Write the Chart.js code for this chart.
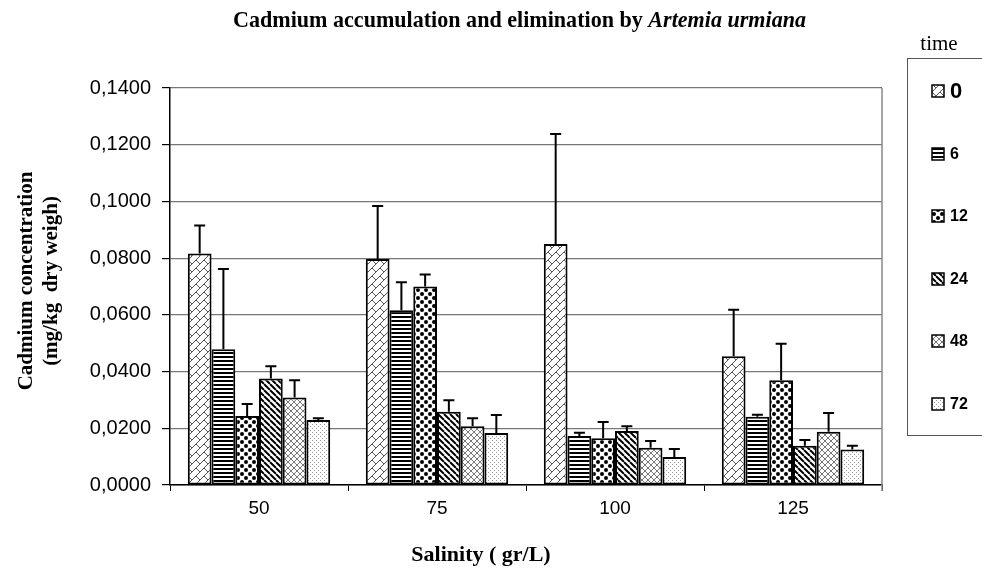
<!DOCTYPE html>
<html>
<head>
<meta charset="utf-8">
<script src="https://cdn.jsdelivr.net/npm/chart.js@4"></script>
<style>html,body{margin:0;padding:0;background:#fff}</style>
</head>
<body>
<canvas id="chart" width="982" height="569"></canvas>
<script>
// Cadmium accumulation and elimination
const salinity = ['50', '75', '100', '125'];
const timeLabels = ['0', '6', '12', '24', '48', '72'];
const yTicks = [0, 0.02, 0.04, 0.06, 0.08, 0.10, 0.12, 0.14];

// mean concentration per sampling time (one value per salinity)
const t0  = [0.0816, 0.0797, 0.0850, 0.0454];
const t6  = [0.0479, 0.0616, 0.0173, 0.0241];
const t12 = [0.0243, 0.0700, 0.0165, 0.0369];
const t24 = [0.0376, 0.0258, 0.0190, 0.0138];
const t48 = [0.0309, 0.0207, 0.0131, 0.0188];
const t72 = [0.0229, 0.0183, 0.0099, 0.0125];

// upper error bars
const e0  = [0.0099, 0.0187, 0.0388, 0.0164];
const e6  = [0.0283, 0.0099, 0.0011, 0.0007];
const e12 = [0.0043, 0.0042, 0.0057, 0.0129];
const e24 = [0.0043, 0.0041, 0.0017, 0.0021];
const e48 = [0.0060, 0.0028, 0.0024, 0.0066];
const e72 = [0.0006, 0.0064, 0.0028, 0.0013];

const series = [t0, t6, t12, t24, t48, t72];
const errors = [e0, e6, e12, e24, e48, e72];

// hatch fills like the old spreadsheet patterns
function makePattern(kind) {
    const c = document.createElement('canvas');
    const g = c.getContext('2d');
    let s = 8;
    if (kind === 'lines') s = 4;
    if (kind === 'diag' || kind === 'cross') s = 6;
    if (kind === 'fine') s = 4;
    c.width = s; c.height = s;
    g.fillStyle = '#fff';
    g.fillRect(0, 0, s, s);
    if (kind === 'brick') {
        g.strokeStyle = '#555';
        g.lineWidth = 1;
        g.beginPath();
        g.moveTo(-1, 9); g.lineTo(9, -1);
        g.moveTo(4, 4); g.lineTo(8, 8);
        g.stroke();
    } else if (kind === 'lines') {
        g.fillStyle = '#000';
        g.fillRect(0, 0, s, 2);
    } else if (kind === 'dots') {
        g.fillStyle = '#000';
        g.beginPath();
        g.arc(2, 2, 2, 0, Math.PI * 2);
        g.arc(6, 6, 2, 0, Math.PI * 2);
        g.fill();
    } else if (kind === 'diag') {
        g.strokeStyle = '#000';
        g.lineWidth = 2;
        g.beginPath();
        for (let x = -s; x <= s; x += s) {
            g.moveTo(x, 0); g.lineTo(x + s, s);
        }
        g.stroke();
    } else if (kind === 'cross') {
        g.strokeStyle = '#777';
        g.lineWidth = 1;
        g.beginPath();
        g.moveTo(0, 0); g.lineTo(s, s);
        g.moveTo(s, 0); g.lineTo(0, s);
        g.stroke();
    } else if (kind === 'fine') {
        g.fillStyle = '#999';
        g.fillRect(0, 0, 1, 1);
        g.fillRect(2, 2, 1, 1);
    }
    return g.createPattern(c, 'repeat');
}

const fills = ['brick', 'lines', 'dots', 'diag', 'cross', 'fine'].map(makePattern);

const serif = "'Liberation Serif', 'Times New Roman', serif";
const sans = "'Liberation Sans', Arial, sans-serif";

// error bars, title, axis titles and the boxed legend
const extras = {
    id: 'extras',
    afterDatasetsDraw(chart) {
        const ctx = chart.ctx;
        const y = chart.scales.y;
        ctx.save();
        ctx.strokeStyle = '#000';
        ctx.lineWidth = 2;
        chart.data.datasets.forEach((ds, i) => {
            const meta = chart.getDatasetMeta(i);
            meta.data.forEach((bar, j) => {
                const top = y.getPixelForValue(ds.data[j] + errors[i][j]);
                ctx.beginPath();
                ctx.moveTo(bar.x, bar.y);
                ctx.lineTo(bar.x, top);
                ctx.moveTo(bar.x - 5.5, top);
                ctx.lineTo(bar.x + 5.5, top);
                ctx.stroke();
            });
        });
        ctx.restore();
    },
    afterDraw(chart) {
        const ctx = chart.ctx;
        const area = chart.chartArea;
        ctx.save();

        // right border of the plot
        ctx.strokeStyle = '#888';
        ctx.lineWidth = 1.5;
        ctx.beginPath();
        ctx.moveTo(area.right, area.top);
        ctx.lineTo(area.right, area.bottom + 6);
        ctx.stroke();

        // title, with the species name in italics
        ctx.fillStyle = '#000';
        ctx.textBaseline = 'alphabetic';
        const partA = 'Cadmium accumulation and elimination by ';
        const partB = 'Artemia urmiana';
        const fA = 'bold 23px ' + serif;
        const fB = 'bold italic 23px ' + serif;
        ctx.font = fA;
        const wA = ctx.measureText(partA).width;
        ctx.font = fB;
        const wB = ctx.measureText(partB).width;
        const sx = 573 / (wA + wB);
        ctx.translate(233, 27);
        ctx.scale(sx, 1);
        ctx.textAlign = 'left';
        ctx.font = fA;
        ctx.fillText(partA, 0, 0);
        ctx.font = fB;
        ctx.fillText(partB, wA, 0);
        ctx.setTransform(1, 0, 0, 1, 0, 0);

        // axis titles
        ctx.textBaseline = 'middle';
        ctx.textAlign = 'center';
        ctx.font = 'bold 22px ' + serif;
        ctx.fillText('Salinity ( gr/L)', 481, 555);
        ctx.font = 'bold 21px ' + serif;
        ctx.translate(27, 281);
        ctx.rotate(-Math.PI / 2);
        ctx.fillText('Cadmium concentration', 0, 0);
        ctx.fillText('(mg/kg  dry weigh)', 0, 25);
        ctx.setTransform(1, 0, 0, 1, 0, 0);

        // legend
        ctx.font = '21px ' + serif;
        ctx.fillText('time', 939, 44);
        ctx.strokeStyle = '#555';
        ctx.lineWidth = 1;
        ctx.strokeRect(907.5, 58.5, 120, 377);
        const rows = [91, 154, 216, 279, 341, 404];
        chart.data.datasets.forEach((ds, i) => {
            const cy = rows[i];
            ctx.fillStyle = ds.backgroundColor;
            ctx.fillRect(932, cy - 6, 12, 12);
            ctx.strokeStyle = '#000';
            ctx.lineWidth = 1.5;
            ctx.strokeRect(932, cy - 6, 12, 12);
            ctx.fillStyle = '#000';
            ctx.textAlign = 'left';
            ctx.font = (i === 0 ? 'bold 22px ' : 'bold 16px ') + sans;
            ctx.fillText(ds.label, 950, cy + 1);
        });
        ctx.restore();
    }
};

new Chart(document.getElementById('chart'), {
    type: 'bar',
    data: {
        labels: salinity,
        datasets: series.map((vals, i) => ({
            label: timeLabels[i],
            data: vals,
            backgroundColor: fills[i],
            borderColor: '#000',
            borderWidth: 2,
            borderSkipped: false,
            categoryPercentage: 0.8,
            barPercentage: 1.0
        }))
    },
    options: {
        responsive: false,
        animation: false,
        devicePixelRatio: 1,
        layout: { padding: { left: 0, right: 100, top: 88, bottom: 0 } },
        plugins: {
            legend: { display: false },
            title: { display: false },
            tooltip: { enabled: false }
        },
        scales: {
            x: {
                afterFit: (s) => { s.height = 84; },
                grid: {
                    offset: true,
                    drawOnChartArea: false,
                    tickLength: 6,
                    tickColor: '#000',
                    tickWidth: 1
                },
                border: { color: '#000', width: 1.5 },
                ticks: {
                    color: '#000',
                    padding: 6,
                    font: { family: sans, size: 19 }
                }
            },
            y: {
                min: 0,
                max: 0.14,
                afterFit: (s) => { s.width = 170; },
                afterBuildTicks: (s) => { s.ticks = yTicks.map(v => ({ value: v })); },
                grid: {
                    color: '#777',
                    lineWidth: 1.2,
                    tickLength: 8,
                    tickColor: '#000'
                },
                border: { color: '#000', width: 1.5 },
                ticks: {
                    color: '#000',
                    padding: 11,
                    font: { family: sans, size: 20 },
                    callback: (v) => v.toFixed(4).replace('.', ',')
                }
            }
        }
    },
    plugins: [extras]
});
</script>
</body>
</html>
